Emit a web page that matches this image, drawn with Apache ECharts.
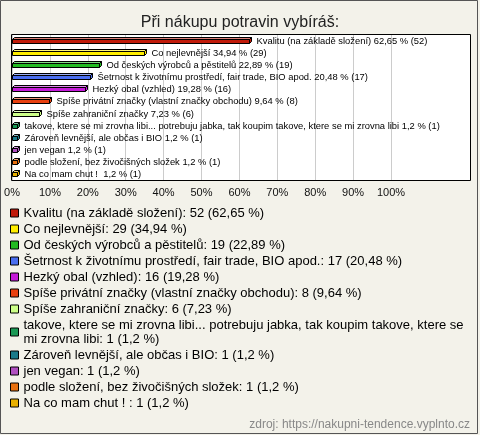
<!DOCTYPE html>
<html>
<head>
<meta charset="utf-8">
<script src="https://cdn.jsdelivr.net/npm/echarts@6/dist/echarts.min.js"></script>
<style>
html,body{margin:0;padding:0;background:#f3f2ea;}
#c{width:480px;height:435px;}
</style>
</head>
<body>
<div id="c"></div>
<script>
const categories = [
  "Kvalitu (na základě složení)",
  "Co nejlevnější",
  "Od českých výrobců a pěstitelů",
  "Šetrnost k životnímu prostředí, fair trade, BIO apod.",
  "Hezký obal (vzhled)",
  "Spíše privátní značky (vlastní značky obchodu)",
  "Spíše zahraniční značky",
  "takove, ktere se mi zrovna libi... potrebuju jabka, tak koupim takove, ktere se mi zrovna libi",
  "Zároveň levnější, ale občas i BIO",
  "jen vegan",
  "podle složení, bez živočišných složek",
  "Na co mam chut ! "
];
const counts = [52, 29, 19, 17, 16, 8, 6, 1, 1, 1, 1, 1];
const percents = [62.65, 34.94, 22.89, 20.48, 19.28, 9.64, 7.23, 1.2, 1.2, 1.2, 1.2, 1.2];
const tickValues = [0, 10, 20, 30, 40, 50, 60, 70, 80, 90, 100];

const colors = ["#c01a0a", "#ffee00", "#22bb22", "#4a6ef0", "#c41ad8", "#e84010",
  "#ccff88", "#1a9955", "#1a7a8a", "#b050c0", "#e87010", "#e8b000"];

function fmt(v) { return String(v).replace('.', ','); }
function lighten(hex, t) {
  const n = parseInt(hex.slice(1), 16);
  let r = (n >> 16) & 255, g = (n >> 8) & 255, b = n & 255;
  r = Math.round(r + (255 - r) * t); g = Math.round(g + (255 - g) * t); b = Math.round(b + (255 - b) * t);
  return 'rgb(' + r + ',' + g + ',' + b + ')';
}

const chart = echarts.init(document.getElementById('c'), null, {renderer: 'canvas'});

const series = categories.map((name, i) => ({
  type: 'custom',
  name: name,
  itemStyle: {color: colors[i]},
  data: [[percents[i], i]],
  encode: {x: 0, y: 1},
  z: 5,
  renderItem: function (params, api) {
    const v = api.value(0), idx = api.value(1);
    const end = api.coord([v, idx]);
    const start = api.coord([0, idx]);
    const x0 = Math.round(start[0]) + 0.5, x1 = Math.round(end[0]) + 0.5;
    const cy = Math.round(end[1]);
    const d = 2;
    const top = cy - 2 + 0.5, bot = cy + 2 + 0.5;
    const c = colors[i];
    const st = {stroke: '#000', lineWidth: 1};
    const label = name + ' ' + fmt(percents[i]) + ' % (' + counts[i] + ')';
    return {
      type: 'group',
      children: [
        {type: 'polygon', shape: {points: [[x0, top], [x0 + d, top - d], [x1 + d, top - d], [x1, top]]},
          style: Object.assign({fill: lighten(c, 0.45)}, st)},
        {type: 'polygon', shape: {points: [[x1, top], [x1 + d, top - d], [x1 + d, bot - d], [x1, bot]]},
          style: Object.assign({fill: c}, st)},
        {type: 'rect', shape: {x: x0, y: top, width: x1 - x0, height: bot - top},
          style: Object.assign({fill: c}, st)},
        {type: 'text', x: x1 + 7, y: cy,
          style: {text: label, fill: '#000', font: '9.4px "Liberation Sans", Arial, sans-serif',
            textAlign: 'left', textVerticalAlign: 'middle'}}
      ]
    };
  }
}));

chart.setOption({
  animation: false,
  backgroundColor: '#f3f2ea',
  title: {
    text: 'Při nákupu potravin vybíráš:',
    left: 'center', top: 10,
    textStyle: {fontFamily: '"Liberation Sans", Arial, sans-serif', fontSize: 16, fontWeight: 'normal', color: '#222'}
  },
  graphic: [
    {type: 'rect', z: -10, shape: {x: 0.5, y: 0.5, width: 477, height: 433},
      style: {fill: 'none', stroke: '#555', lineWidth: 1}},
    {type: 'rect', z: -5, shape: {x: 11.5, y: 34.5, width: 459, height: 146},
      style: {fill: '#fff', stroke: '#000', lineWidth: 1}},
    {type: 'text', right: 10, top: 419,
      style: {text: 'zdroj: https://nakupni-tendence.vyplnto.cz', fill: '#888',
        font: '12px "Liberation Sans", Arial, sans-serif'}}
  ],
  grid: {left: 12, top: 35, width: 379, height: 145, containLabel: false},
  xAxis: {
    type: 'value', min: 0, max: 100, interval: 10,
    axisLine: {show: false}, axisTick: {show: false},
    splitLine: {show: true, lineStyle: {color: '#ccc', width: 1}},
    axisLabel: {
      margin: 7, color: '#111', fontSize: 11, fontFamily: '"Liberation Sans", Arial, sans-serif',
      formatter: function (v) { return tickValues.indexOf(v) >= 0 ? v + '%' : ''; }
    }
  },
  yAxis: {
    type: 'category', data: categories, inverse: true,
    axisLine: {show: false}, axisTick: {show: false}, axisLabel: {show: false}, splitLine: {show: false}
  },
  legend: {
    orient: 'vertical', left: 10, top: 206, padding: 0,
    itemWidth: 8, itemHeight: 8, itemGap: 2,
    icon: 'rect',
    itemStyle: {borderColor: '#000', borderWidth: 1},
    selectedMode: false,
    data: categories,
    formatter: function (name) {
      const i = categories.indexOf(name);
      return name + ': ' + counts[i] + ' (' + fmt(percents[i]) + ' %)';
    },
    textStyle: {
      fontFamily: '"Liberation Sans", Arial, sans-serif', fontSize: 13, color: '#000',
      lineHeight: 14, width: 444, overflow: 'break'
    }
  },
  series: series
});
</script>
</body>
</html>
